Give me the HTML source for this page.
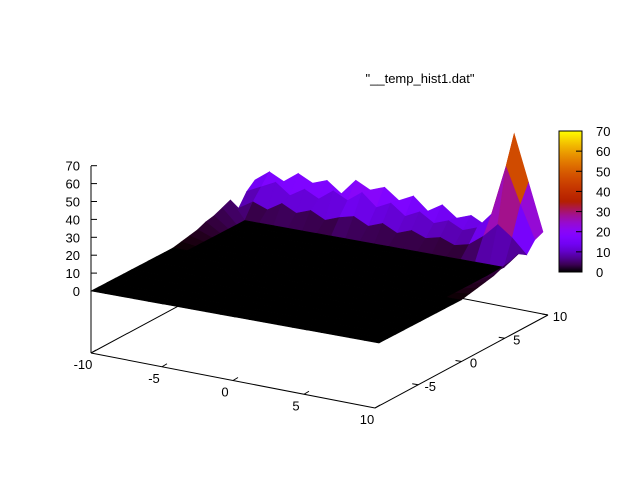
<!DOCTYPE html>
<html><head><meta charset="utf-8"><style>
body{margin:0;background:#fff}
svg{display:block;font-family:"Liberation Sans",sans-serif;font-size:13px}
</style></head><body>
<svg id="c" width="640" height="480" viewBox="0 0 640 480">
<defs><linearGradient id="cbg" x1="0" y1="1" x2="0" y2="0"></linearGradient></defs>
<text x="420" y="83" text-anchor="middle">"__temp_hist1.dat"</text>
<g id="axes"></g>
<g id="surf"></g>
<g id="cb"></g>
</svg>
<script>
const xTicks=[-10,-5,0,5,10];
const yTicks=[-5,0,5,10];
const zTicks=[0,10,20,30,40,50,60,70];
const cbTicks=[0,10,20,30,40,50,60,70];
const zRowY10=[14,20,16,22,18,21,15,24,20,23,17,21,14,19,13,16,12,28,66,40,14];
const zRowY9=[10,14,18,12,17,13,19,15,21,14,18,12,16,11,14,10,13,22,50,30,12];
const zRowY8=[3,8,5,10,6,9,5,8,10,6,9,5,8,5,7,4,6,12,20,14,6];
const zLeftEdge=[0,1,2,3,5,6,8,10];
const zRightEdge=[0,1,2,3,4,6,7,9];
const NS="http://www.w3.org/2000/svg";
function P(x,y,z){return [91+(x+10)*14.4+(y+10)*8.2, 291+(x+10)*2.6-(y+10)*4.3-z*1.79];}
function B(x,y){return [91+(x+10)*14.2+(y+10)*8.65, 353+(x+10)*2.75-(y+10)*4.65];}
function col(t){t=Math.max(0,Math.min(1,t));const r=Math.sqrt(t),g=t*t*t,b=Math.max(0,Math.sin(2*Math.PI*t));
return `rgb(${Math.round(r*255)},${Math.round(g*255)},${Math.round(b*255)})`;}
function el(tag,a,parent){const e=document.createElementNS(NS,tag);for(const k in a)e.setAttribute(k,a[k]);parent.appendChild(e);return e;}
const Z=[];
for(let j=0;j<=20;j++){Z.push(new Array(21).fill(0));}
for(let i=0;i<=20;i++){Z[20][i]=zRowY10[i];Z[19][i]=zRowY9[i];Z[18][i]=zRowY8[i];}
for(let k=0;k<8;k++){Z[10+k][0]=zLeftEdge[k];Z[10+k][20]=zRightEdge[k];}
const axes=document.getElementById('axes');
const ln=(a,b,name)=>{const e=el('line',{x1:a[0],y1:a[1],x2:b[0],y2:b[1],stroke:'#000','stroke-width':1},axes);

};
ln(B(-10,-10),B(10,-10),'x-axis');
ln(B(10,-10),B(10,10),'y-axis');
ln(B(-10,-10),B(-10,10),'base-left-edge');
ln(B(-10,10),B(10,10),'base-back-edge');
ln([91,166],B(-10,-10),'z-axis');
zTicks.forEach(v=>{const y=291-v*1.79;
ln([91,y],[97,y],'z-tick');
const t=el('text',{x:80,y:y+5,'text-anchor':'end'},axes);t.textContent=v;

});
xTicks.forEach(v=>{const p=B(v,-10);
ln(p,[p[0]+5,p[1]-3],'x-tick');
const t=el('text',{x:p[0]-8,y:p[1]+16,'text-anchor':'middle'},axes);t.textContent=v;

});
yTicks.forEach(v=>{const p=B(10,v);
ln(p,[p[0]-6,p[1]-1],'y-tick');
const t=el('text',{x:p[0]+12,y:p[1]+6,'text-anchor':'middle'},axes);t.textContent=v;

});
const surf=document.getElementById('surf');
const cells=[];
for(let j=0;j<20;j++)for(let i=0;i<20;i++){cells.push({i,j,d:4.5*(j+0.5)-2.6*(i+0.5)});}
cells.sort((a,b)=>b.d-a.d);
cells.forEach(c=>{const {i,j}=c;const x0=i-10,y0=j-10;
const z1=Z[j][i],z2=Z[j][i+1],z3=Z[j+1][i+1],z4=Z[j+1][i];
const pts=[P(x0,y0,z1),P(x0+1,y0,z2),P(x0+1,y0+1,z3),P(x0,y0+1,z4)];
const avg=(z1+z2+z3+z4)/4;
const f=col(avg/70);
const p=el('polygon',{points:pts.map(q=>q.join(',')).join(' '),fill:f,stroke:f,'stroke-width':0.6},surf);

});
const g=document.querySelector('#cbg');
for(let k=0;k<=20;k++){el('stop',{offset:k/20,'stop-color':col(k/20)},g);}
const cb=document.getElementById('cb');
const r=el('rect',{x:559,y:131,width:23,height:141,fill:'url(#cbg)',stroke:'#000','stroke-width':1},cb);


cbTicks.forEach(v=>{const y=272-v/70*141;
const l=el('line',{x1:576,y1:y,x2:582,y2:y,stroke:'#000'},cb);


const t=el('text',{x:596,y:y+5},cb);t.textContent=v;

});
</script>
</body></html>
